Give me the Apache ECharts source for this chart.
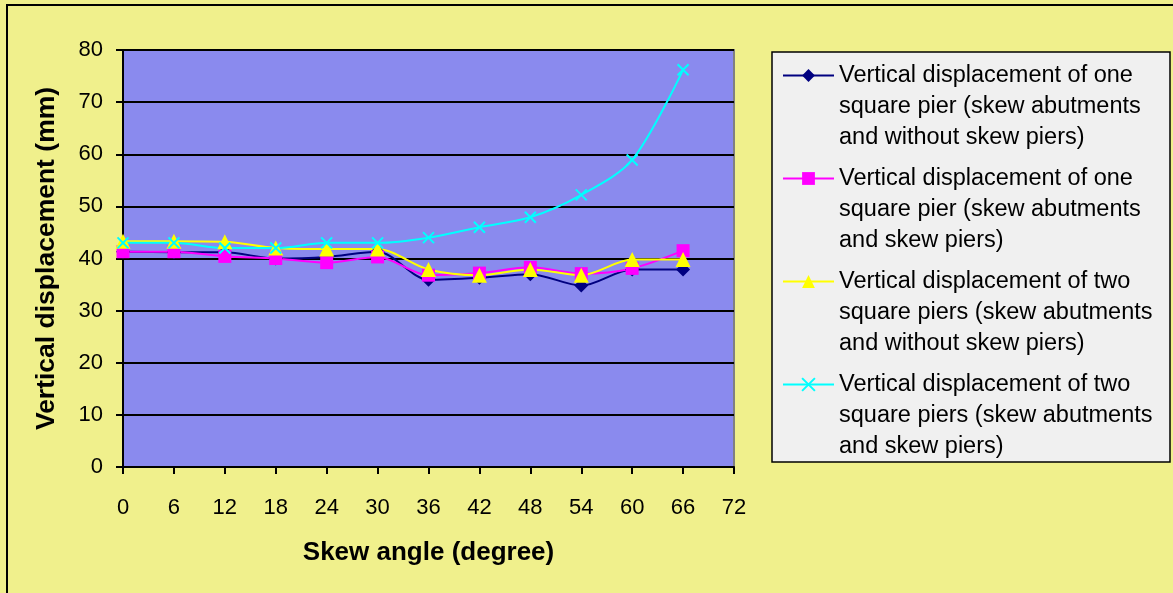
<!DOCTYPE html>
<html>
<head>
<meta charset="utf-8">
<script src="https://cdn.jsdelivr.net/npm/echarts@6/dist/echarts.min.js"></script>
<style>
html,body{margin:0;padding:0;background:#F0F08C;}
#chart{width:1173px;height:593px;}
</style>
</head>
<body>
<div id="chart"></div>
<script>
// Data
const skewAngles = [0, 6, 12, 18, 24, 30, 36, 42, 48, 54, 60, 66];
const onePierNoSkew = [41.3, 41.2, 41.2, 40.0, 40.3, 41.3, 35.9, 36.3, 37.0, 34.8, 37.9, 37.9];
const onePierSkew = [41.3, 41.3, 40.4, 40.0, 39.2, 40.3, 36.8, 37.2, 38.3, 37.1, 38.1, 41.5];
const twoPiersNoSkew = [43.3, 43.3, 43.2, 42.0, 41.8, 41.8, 37.9, 36.8, 37.9, 36.8, 39.8, 39.8];
const twoPiersSkew = [43.0, 43.0, 42.0, 42.0, 43.0, 43.0, 44.0, 46.0, 47.9, 52.2, 58.9, 76.2];
const seriesNames = [
  'Vertical displacement of one\nsquare pier (skew abutments\nand without skew piers)',
  'Vertical displacement of one\nsquare pier (skew abutments\nand skew piers)',
  'Vertical displacement of two\nsquare piers (skew abutments\nand without skew piers)',
  'Vertical displacement of two\nsquare piers (skew abutments\nand skew piers)'
];
const xTicks = { min: 0, max: 72, interval: 6 };
const yTicks = { min: 0, max: 80, interval: 10 };

const pair = vals => skewAngles.map((x, i) => [x, vals[i]]);

const font = '"Liberation Sans", Arial, sans-serif';
const chart = echarts.init(document.getElementById('chart'));
const crossPath = 'path://M0,0L10,10M10,0L0,10';

chart.setOption({
  backgroundColor: '#F0F08C',
  animation: false,
  textStyle: { fontFamily: font },
  graphic: [
    { type: 'rect', shape: { x: 7, y: 5, width: 1300, height: 700 }, style: { fill: 'none', stroke: '#000', lineWidth: 2 }, z: 100 },
    { type: 'rect', shape: { x: 123, y: 50, width: 611, height: 417 }, style: { fill: 'none', stroke: '#808080', lineWidth: 2 }, z: 0 },
    { type: 'rect', shape: { x: 772, y: 52, width: 398, height: 410 }, style: { fill: '#F0F0F0', stroke: '#000', lineWidth: 1.5 }, z: 0 }
  ],
  grid: { left: 123, top: 50, width: 611, height: 417, show: true, backgroundColor: '#8A8AEE', borderWidth: 0 },
  legend: {
    type: 'plain',
    orient: 'vertical',
    left: 782, top: -2,
    padding: 0,
    itemWidth: 51, itemHeight: 16, itemGap: -52, itemTextGap: 6,
    formatter: name => '\n\n' + name,
    textStyle: { fontFamily: font, fontSize: 23.5, color: '#000', lineHeight: 31 },
    data: seriesNames
  },
  xAxis: {
    type: 'value', min: xTicks.min, max: xTicks.max, interval: xTicks.interval,
    name: 'Skew angle (degree)', nameLocation: 'middle', nameGap: 73,
    nameTextStyle: { fontFamily: font, fontSize: 26, fontWeight: 'bold', color: '#000' },
    axisLine: { lineStyle: { color: '#000', width: 2 } },
    axisTick: { show: true, length: 7, lineStyle: { color: '#000', width: 2 } },
    axisLabel: { fontFamily: font, fontSize: 22, color: '#000', margin: 30 },
    splitLine: { show: false }
  },
  yAxis: {
    type: 'value', min: yTicks.min, max: yTicks.max, interval: yTicks.interval,
    name: 'Vertical displacement (mm)', nameLocation: 'middle', nameGap: 63,
    nameTextStyle: { fontFamily: font, fontSize: 26.5, fontWeight: 'bold', color: '#000' },
    axisLine: { show: true, lineStyle: { color: '#000', width: 2 } },
    axisTick: { show: true, length: 7, lineStyle: { color: '#000', width: 2 } },
    axisLabel: { fontFamily: font, fontSize: 22, color: '#000', margin: 20 },
    splitLine: { show: true, lineStyle: { color: '#000', width: 2 } }
  },
  series: [
    { name: seriesNames[0], type: 'line', smooth: 0.3, data: pair(onePierNoSkew),
      symbol: 'diamond', symbolSize: 14, color: '#000080',
      lineStyle: { color: '#000080', width: 2 }, itemStyle: { color: '#000080' } },
    { name: seriesNames[1], type: 'line', smooth: 0.3, data: pair(onePierSkew),
      symbol: 'rect', symbolSize: 13, color: '#FF00FF',
      lineStyle: { color: '#FF00FF', width: 2 }, itemStyle: { color: '#FF00FF' } },
    { name: seriesNames[2], type: 'line', smooth: 0.3, data: pair(twoPiersNoSkew),
      symbol: 'triangle', symbolSize: 15, color: '#FFFF00',
      lineStyle: { color: '#FFFF00', width: 2 }, itemStyle: { color: '#FFFF00' } },
    { name: seriesNames[3], type: 'line', smooth: 0.3, data: pair(twoPiersSkew),
      symbol: crossPath, symbolSize: 11, color: '#00FFFF',
      lineStyle: { color: '#00FFFF', width: 2 }, itemStyle: { color: 'none', borderColor: '#00FFFF', borderWidth: 2 } }
  ]
});
</script>
</body>
</html>
